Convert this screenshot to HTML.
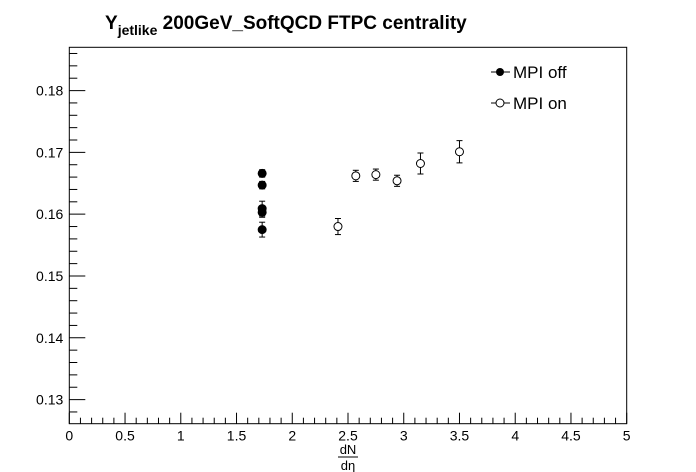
<!DOCTYPE html>
<html><head><meta charset="utf-8"><style>
body{margin:0;background:#fff;}
svg{display:block;font-family:"Liberation Sans",sans-serif;}
</style></head><body>
<svg id="c" width="696" height="472">
<text x="105" y="29" font-size="19" font-weight="bold">Y<tspan font-size="14" dy="6">jetlike</tspan><tspan dy="-6"> 200GeV_SoftQCD FTPC centrality</tspan></text>
<rect x="69.3" y="47.3" width="557.4" height="376.4" fill="none" stroke="#000" stroke-width="1"/>
<g id="axes"></g>
<g id="marks"></g>
<g>
<g>
<line x1="491" y1="72" x2="510" y2="72" stroke="#000"/><circle cx="500" cy="72" r="4" fill="#000"/>
<text x="513" y="78" font-size="17">MPI off</text></g>
<g>
<line x1="491" y1="103" x2="510" y2="103" stroke="#000"/><circle cx="500" cy="103" r="4" fill="#fff" stroke="#000"/>
<text x="513" y="109" font-size="17">MPI on</text></g>
</g>
<g>
<text x="348" y="454" font-size="13" text-anchor="middle">dN</text>
<line x1="338" y1="457" x2="358" y2="457" stroke="#000"/>
<text x="348" y="470" font-size="13" text-anchor="middle">dη</text>
</g>
</svg>
<script>
const offX=[1.73,1.73,1.73,1.73,1.73];
const offY=[0.1666,0.1647,0.1609,0.1603,0.1575];
const offErr=[0.0006,0.0006,0.0012,0.0008,0.0012];
const onX=[2.41,2.57,2.75,2.94,3.15,3.50];
const onY=[0.1580,0.1662,0.1664,0.1654,0.1682,0.1701];
const onErr=[0.0013,0.0009,0.0009,0.0009,0.0017,0.0018];
const xTicks=[0,0.5,1,1.5,2,2.5,3,3.5,4,4.5,5];
const xTickLabels=["0","0.5","1","1.5","2","2.5","3","3.5","4","4.5","5"];
const yTicks=[0.13,0.14,0.15,0.16,0.17,0.18];
const yTickLabels=["0.13","0.14","0.15","0.16","0.17","0.18"];
const L=69.3,R=626.7,T=47.3,B=423.7,Y0=0.1261,Y1=0.1870;
const sx=v=>L+(v-0)/(5-0)*(R-L);
const sy=v=>B-(v-Y0)/(Y1-Y0)*(B-T);
const NS="http://www.w3.org/2000/svg";
function mk(tag,attrs,parent){const e=document.createElementNS(NS,tag);for(const k in attrs)e.setAttribute(k,attrs[k]);parent.appendChild(e);return e;}
const ax=document.getElementById('axes'),mg=document.getElementById('marks');
for(let i=0;i<=50;i++){const v=i*0.1;const x=sx(v);const big=i%5===0;
 const t=mk('line',{x1:x,y1:B,x2:x,y2:B-(big?11:6),stroke:'#000'},ax);
 
 }
xTicks.forEach((v,i)=>{const t=mk('text',{x:sx(v),y:B+17,'font-size':14,'text-anchor':'middle'},ax);t.textContent=xTickLabels[i];
 
 });
for(let i=0;i<=60;i++){const v=0.126+i*0.002;if(v<Y0-1e-9||v>Y1)continue;const y=sy(v);
 const big=Math.abs(Math.round(v*100)-v*100)<1e-6;
 const t=mk('line',{x1:L,y1:y,x2:L+(big?16:8),y2:y,stroke:'#000'},ax);
 
 }
yTicks.forEach((v,i)=>{const t=mk('text',{x:L-6,y:sy(v)+5,'font-size':14,'text-anchor':'end'},ax);t.textContent=yTickLabels[i];
 
 });
function pts(xs,ys,es,filled,name){xs.forEach((xv,i)=>{const g=mk('g',{},mg);
 
 
 const x=sx(xv),y=sy(ys[i]),y1=sy(ys[i]+es[i]),y2=sy(ys[i]-es[i]);
 mk('line',{x1:x,y1:y1,x2:x,y2:y2,stroke:'#000'},g);
 mk('line',{x1:x-3,y1:y1,x2:x+3,y2:y1,stroke:'#000'},g);
 mk('line',{x1:x-3,y1:y2,x2:x+3,y2:y2,stroke:'#000'},g);
 mk('circle',{cx:x,cy:y,r:4,fill:filled?'#000':'#fff',stroke:'#000'},g);});}
pts(offX,offY,offErr,true,'point-mpi-off');
pts(onX,onY,onErr,false,'point-mpi-on');
</script>
</body></html>
